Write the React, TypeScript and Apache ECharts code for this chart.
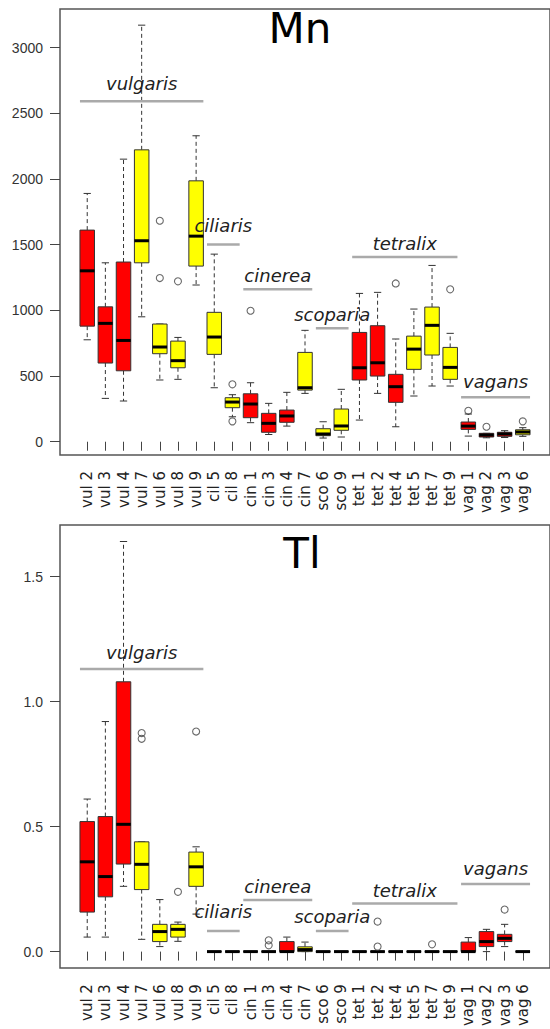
import React, { useEffect, useRef } from 'react';
import * as echarts from 'echarts';

const categories = ['vul 2', 'vul 3', 'vul 4', 'vul 7', 'vul 6', 'vul 8', 'vul 9', 'cil 5', 'cil 8', 'cin 1', 'cin 3', 'cin 4', 'cin 7', 'sco 6', 'sco 9', 'tet 1', 'tet 2', 'tet 4', 'tet 5', 'tet 7', 'tet 9', 'vag 1', 'vag 2', 'vag 3', 'vag 6'];
const boxColorKey = ['r', 'r', 'r', 'y', 'y', 'y', 'y', 'y', 'y', 'r', 'r', 'r', 'y', 'y', 'y', 'r', 'r', 'r', 'y', 'y', 'y', 'r', 'r', 'r', 'y'];

// [min, Q1, median, Q3, max]
const mnStats = [
  [776, 880, 1301, 1611, 1890],
  [330, 599, 901, 1027, 1362],
  [310, 540, 771, 1368, 2151],
  [951, 1362, 1530, 2222, 3171],
  [470, 670, 721, 896, 896],
  [475, 563, 617, 766, 794],
  [1193, 1337, 1565, 1986, 2329],
  [411, 665, 797, 985, 1428],
  [190, 259, 302, 335, 358],
  [145, 183, 287, 365, 449],
  [55, 72, 140, 216, 292],
  [119, 148, 196, 241, 376],
  [368, 393, 411, 680, 848],
  [28, 46, 59, 99, 152],
  [36, 87, 120, 249, 399],
  [165, 470, 563, 832, 1129],
  [368, 500, 601, 883, 1137],
  [114, 300, 419, 513, 782],
  [348, 551, 705, 804, 1010],
  [424, 660, 886, 1025, 1342],
  [424, 475, 566, 718, 825],
  [43, 94, 119, 150, 211],
  [30, 36, 51, 64, 64],
  [32, 41, 59, 72, 84],
  [41, 53, 74, 91, 107],
];
// [category index, value]
const mnOutliers = [
  [4, 1682], [4, 1246], [5, 1221], [8, 437], [8, 155], [9, 997],
  [17, 1205], [20, 1160], [21, 236], [22, 114], [24, 155],
];

const tlStats = [
  [0.058, 0.158, 0.359, 0.52, 0.61],
  [0.058, 0.219, 0.3, 0.54, 0.92],
  [0.261, 0.35, 0.509, 1.079, 1.64],
  [0.049, 0.248, 0.349, 0.439, 0.439],
  [0.02, 0.04, 0.08, 0.109, 0.208],
  [0.041, 0.058, 0.089, 0.109, 0.118],
  [0.15, 0.261, 0.339, 0.398, 0.419],
  [0, 0, 0, 0, 0],
  [0, 0, 0, 0, 0],
  [0, 0, 0, 0, 0],
  [0, 0, 0, 0, 0],
  [0, 0, 0, 0.04, 0.058],
  [0, 0, 0.008, 0.019, 0.038],
  [0, 0, 0, 0, 0],
  [0, 0, 0, 0, 0],
  [0, 0, 0, 0, 0],
  [0, 0, 0, 0, 0],
  [0, 0, 0, 0, 0],
  [0, 0, 0, 0, 0],
  [0, 0, 0, 0, 0],
  [0, 0, 0, 0, 0],
  [0, 0, 0, 0.038, 0.056],
  [0, 0.02, 0.04, 0.08, 0.089],
  [0.02, 0.04, 0.053, 0.069, 0.109],
  [0, 0, 0, 0, 0],
];
const tlOutliers = [
  [3, 0.874], [3, 0.851], [5, 0.239], [6, 0.88], [10, 0.045], [10, 0.025],
  [16, 0.12], [16, 0.02], [19, 0.029], [23, 0.168],
];

const groupNames = ['vulgaris', 'ciliaris', 'cinerea', 'scoparia', 'tetralix', 'vagans'];
const groupFirst = [0, 7, 9, 13, 15, 21];
const groupLast = [6, 8, 12, 14, 20, 24];
const mnGroupLineY = [2592, 1502, 1160, 863, 1406, 338];
const mnGroupTextY = [2730, 1649, 1269, 972, 1510, 457];
const tlGroupLineY = [1.13, 0.082, 0.206, 0.082, 0.192, 0.27];
const tlGroupTextY = [1.198, 0.159, 0.261, 0.142, 0.245, 0.334];

const mnTicks = [0, 500, 1000, 1500, 2000, 2500, 3000];
const tlTicks = [0, 0.5, 1.0, 1.5];

const axisCats = ['', ...categories, ''];
const RED = '#ff0000';
const YELLOW = '#ffff00';

function boxRender(params: any, api: any) {
  const x = api.value(0);
  const mn = api.value(1), q1 = api.value(2), md = api.value(3), q3 = api.value(4), mx = api.value(5);
  const bw = api.size([1, 0])[0] * 0.8;
  const half = bw / 2;
  const capHalf = bw / 4;
  const pMin = api.coord([x, mn]);
  const pQ1 = api.coord([x, q1]);
  const pMd = api.coord([x, md]);
  const pQ3 = api.coord([x, q3]);
  const pMax = api.coord([x, mx]);
  const cx = pMd[0];
  const fill = boxColorKey[params.dataIndex] === 'r' ? RED : YELLOW;
  const wStyle = { stroke: '#333', lineWidth: 1, lineDash: [4, 3] };
  const cStyle = { stroke: '#333', lineWidth: 1 };
  return {
    type: 'group',
    children: [
      { type: 'line', shape: { x1: cx, y1: pQ3[1], x2: cx, y2: pMax[1] }, style: wStyle },
      { type: 'line', shape: { x1: cx, y1: pQ1[1], x2: cx, y2: pMin[1] }, style: wStyle },
      { type: 'line', shape: { x1: cx - capHalf, y1: pMax[1], x2: cx + capHalf, y2: pMax[1] }, style: cStyle },
      { type: 'line', shape: { x1: cx - capHalf, y1: pMin[1], x2: cx + capHalf, y2: pMin[1] }, style: cStyle },
      { type: 'rect', shape: { x: cx - half, y: pQ3[1], width: bw, height: pQ1[1] - pQ3[1] }, style: { fill, stroke: '#333', lineWidth: 1 } },
      { type: 'line', shape: { x1: cx - half, y1: pMd[1], x2: cx + half, y2: pMd[1] }, style: { stroke: '#000', lineWidth: 3 } },
    ],
  };
}

function groupRender(params: any, api: any) {
  const x0 = api.value(0), x1 = api.value(1), ly = api.value(2), ty = api.value(3);
  const a = api.coord([x0, ly]);
  const b = api.coord([x1, ly]);
  const t = api.coord([(x0 + x1) / 2, ty]);
  return {
    type: 'group',
    children: [
      { type: 'line', shape: { x1: a[0], y1: a[1], x2: b[0], y2: b[1] }, style: { stroke: '#aaaaaa', lineWidth: 2.5 } },
      {
        type: 'text',
        style: {
          text: groupNames[params.dataIndex], x: t[0], y: t[1], align: 'center', verticalAlign: 'middle',
          fontSize: 18, fontStyle: 'italic', fontFamily: 'DejaVu Sans', fill: '#222',
        },
      },
    ],
  };
}

function groupData(lineY: number[], textY: number[]) {
  return groupNames.map((_, i) => [groupFirst[i] + 1.5 - 0.4, groupLast[i] + 1.5 + 0.4, lineY[i], textY[i]]);
}

function catAxis(gridIndex: number) {
  return {
    type: 'category', gridIndex, data: axisCats, boundaryGap: true,
    axisLine: { show: false },
    axisTick: { show: true, alignWithLabel: true, length: 9, interval: (i: number) => i > 0 && i < axisCats.length - 1, lineStyle: { color: '#444' } },
    axisLabel: { interval: 0, rotate: 90, margin: 16, fontSize: 15, fontFamily: 'DejaVu Sans', color: '#222' },
    splitLine: { show: false },
  };
}

function valXAxis(gridIndex: number) {
  return { type: 'value', gridIndex, min: 0, max: axisCats.length, show: false };
}

function yAxis(gridIndex: number, min: number, max: number, ticks: number[], fmt: (v: number) => string) {
  return {
    type: 'value', gridIndex, min, max,
    axisLine: { show: false },
    splitLine: { show: false },
    axisTick: { show: true, length: 10, customValues: ticks, lineStyle: { color: '#444' } },
    axisLabel: { customValues: ticks, margin: 17, fontSize: 14, fontFamily: 'Liberation Sans', color: '#333', formatter: fmt },
  };
}

export default function App() {
  const ref = useRef<HTMLDivElement>(null);
  useEffect(() => {
    if (!ref.current) return;
    const chart = echarts.init(ref.current, undefined, { renderer: 'svg' });
    const gridW = 18.49 * axisCats.length;
    chart.setOption({
      animation: false,
      backgroundColor: '#fff',
      grid: [
        { left: 60, top: 9, width: gridW, height: 446, show: true, borderColor: '#555', borderWidth: 1.5 },
        { left: 60, top: 525, width: gridW, height: 446, show: true, borderColor: '#555', borderWidth: 1.5 },
      ],
      xAxis: [catAxis(0), valXAxis(0), catAxis(1), valXAxis(1)],
      yAxis: [
        yAxis(0, -101, 3294, mnTicks, (v: number) => String(v)),
        yAxis(1, -0.066, 1.706, tlTicks, (v: number) => v.toFixed(1)),
      ],
      graphic: [
        { type: 'text', x: 300, y: 28, style: { text: 'Mn', fontSize: 42, fontFamily: 'DejaVu Sans', fill: '#000', align: 'center', verticalAlign: 'middle' } },
        { type: 'text', x: 302, y: 553, style: { text: 'Tl', fontSize: 42, fontFamily: 'DejaVu Sans', fill: '#000', align: 'center', verticalAlign: 'middle' } },
      ],
      series: [
        {
          type: 'custom', xAxisIndex: 0, yAxisIndex: 0, renderItem: boxRender,
          data: mnStats.map((s, i) => [i + 1, ...s]), encode: { x: 0, y: [1, 2, 3, 4, 5] }, z: 2,
        },
        {
          type: 'scatter', xAxisIndex: 0, yAxisIndex: 0, symbol: 'circle', symbolSize: 7,
          itemStyle: { color: 'rgba(0,0,0,0)', borderColor: '#444', borderWidth: 1.1 },
          data: mnOutliers.map(([c, v]) => [c + 1, v]), z: 3,
        },
        {
          type: 'custom', xAxisIndex: 1, yAxisIndex: 0, renderItem: groupRender,
          data: groupData(mnGroupLineY, mnGroupTextY), encode: { x: [0, 1], y: [2, 3] }, z: 4,
        },
        {
          type: 'custom', xAxisIndex: 2, yAxisIndex: 1, renderItem: boxRender,
          data: tlStats.map((s, i) => [i + 1, ...s]), encode: { x: 0, y: [1, 2, 3, 4, 5] }, z: 2,
        },
        {
          type: 'scatter', xAxisIndex: 2, yAxisIndex: 1, symbol: 'circle', symbolSize: 7,
          itemStyle: { color: 'rgba(0,0,0,0)', borderColor: '#444', borderWidth: 1.1 },
          data: tlOutliers.map(([c, v]) => [c + 1, v]), z: 3,
        },
        {
          type: 'custom', xAxisIndex: 3, yAxisIndex: 1, renderItem: groupRender,
          data: groupData(tlGroupLineY, tlGroupTextY), encode: { x: [0, 1], y: [2, 3] }, z: 4,
        },
      ],
    });
    return () => chart.dispose();
  }, []);
  return <div ref={ref} style={{ position: 'absolute', left: 0, top: 0, width: 550, height: 1029 }} />;
}
